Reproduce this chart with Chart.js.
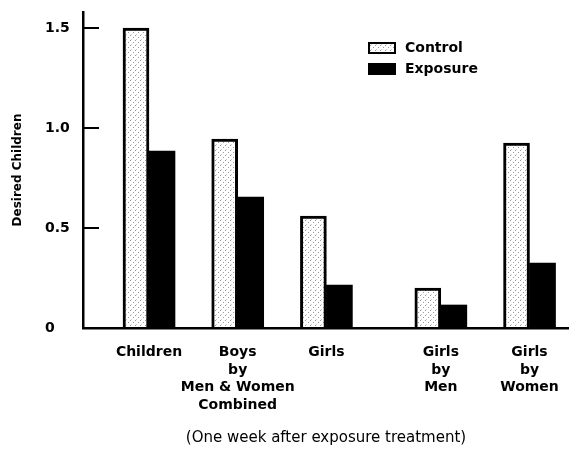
<!DOCTYPE html>
<html>
<head>
<meta charset="utf-8">
<script src="https://cdn.jsdelivr.net/npm/chart.js@4.4.0/dist/chart.umd.min.js"></script>
<style>
  html, body { margin: 0; padding: 0; background: #fff; }
  #wrap { width: 569px; height: 460px; }
</style>
</head>
<body>
<div id="wrap"><canvas id="myChart"></canvas></div>
<script>
const categories = [
    ['Children'],
    ['Boys', 'by', 'Men & Women', 'Combined'],
    ['Girls'],
    ['Girls', 'by', 'Men'],
    ['Girls', 'by', 'Women']
];
const seriesNames = ['Control', 'Exposure'];
const controlValues = [1.50, 0.945, 0.56, 0.20, 0.925];
const exposureValues = [0.885, 0.655, 0.215, 0.115, 0.325];
const yTicks = [0, 0.5, 1.0, 1.5];
const yTickLabels = ['0', '0.5', '1.0', '1.5'];

// the last two groups sit a bit further right than the first three
const slot = i => (i < 3 ? i : i + 0.29);

const FONT = 'DejaVu Sans';

// light stippled fill for the control bars
const makeStipple = () => {
    const c = document.createElement('canvas');
    c.width = 5; c.height = 5;
    const g = c.getContext('2d');
    g.fillStyle = '#ffffff';
    g.fillRect(0, 0, 5, 5);
    g.fillStyle = 'rgba(0,0,0,0.4)';
    g.fillRect(0, 0, 1, 1);
    g.fillRect(3, 2, 1, 1);
    g.fillStyle = 'rgba(0,0,0,0.2)';
    g.fillRect(1, 4, 1, 1);
    return g.createPattern(c, 'repeat');
};

const boxLegend = {
    id: 'boxLegend',
    afterDraw(chart) {
        const {ctx, chartArea} = chart;
        const x = chartArea.left + 286;
        chart.data.datasets.forEach((ds, i) => {
            const y = chartArea.top + 31 + i * 21;
            ctx.save();
            ctx.fillStyle = ds.backgroundColor;
            ctx.fillRect(x, y, 26, 10);
            ctx.lineWidth = 2;
            ctx.strokeStyle = '#000';
            ctx.strokeRect(x, y, 26, 10);
            ctx.fillStyle = '#000';
            ctx.font = 'bold 14px "' + FONT + '"';
            ctx.textBaseline = 'middle';
            ctx.fillText(ds.label, x + 36, y + 5);
            ctx.restore();
        });
    }
};

const renderChart = () => {
    var ctx = document.getElementById('myChart').getContext('2d');
    var stipple = makeStipple();
    new Chart(ctx, {
        type: 'bar',
        data: {
            datasets: [{
                label: seriesNames[0],
                data: controlValues.map((v, i) => ({x: slot(i), y: v})),
                backgroundColor: stipple,
                borderColor: '#000',
                borderWidth: 3,
                barThickness: 26
            }, {
                label: seriesNames[1],
                data: exposureValues.map((v, i) => ({x: slot(i), y: v})),
                backgroundColor: '#000',
                borderColor: '#000',
                borderWidth: 0,
                barThickness: 26
            }]
        },
        options: {
            animation: false,
            responsive: true,
            maintainAspectRatio: false,
            layout: { padding: { top: 12, right: 0, left: 0, bottom: 0 } },
            plugins: {
                legend: { display: false },
                tooltip: { enabled: false },
                title: { display: false }
            },
            scales: {
                x: {
                    type: 'linear',
                    offset: false,
                    min: -0.744,
                    max: 4.735,
                    afterBuildTicks: s => { s.ticks = categories.map((c, i) => ({value: slot(i)})); },
                    afterFit: s => { s.height = 132; },
                    grid: { display: false, offset: false },
                    border: { display: true, color: '#000', width: 2.5 },
                    ticks: {
                        autoSkip: false,
                        maxRotation: 0,
                        padding: 8,
                        color: '#000',
                        font: { family: FONT, size: 14, weight: 'bold', lineHeight: 1.25 },
                        callback: (v, i) => categories[i]
                    },
                    title: {
                        display: true,
                        text: '(One week after exposure treatment)',
                        color: '#000',
                        font: { family: FONT, size: 15 },
                        padding: { top: 0, bottom: 13 }
                    }
                },
                y: {
                    min: 0,
                    max: 1.58,
                    weight: 0,
                    afterBuildTicks: s => { s.ticks = yTicks.map(v => ({value: v})); },
                    afterFit: s => { s.width = 38; },
                    grid: { drawOnChartArea: false, drawTicks: true, tickLength: -16, color: '#000', lineWidth: 2 },
                    border: { display: true, color: '#000', width: 2.5 },
                    ticks: {
                        crossAlign: 'far',
                        padding: 0,
                        color: '#000',
                        font: { family: FONT, size: 14, weight: 'bold' },
                        callback: (v, i) => yTickLabels[i]
                    }
                },
                yTitle: {
                    type: 'linear',
                    position: 'left',
                    weight: 1,
                    afterFit: s => { s.width = 45; },
                    grid: { display: false },
                    border: { display: false },
                    ticks: { display: false },
                    title: {
                        display: true,
                        text: 'Desired Children',
                        color: '#000',
                        font: { family: FONT, size: 12, weight: 'bold' },
                        padding: { top: 11, bottom: 0 }
                    }
                }
            }
        },
        plugins: [boxLegend]
    });
};

document.addEventListener('DOMContentLoaded', function() {
    renderChart();
});
</script>
</body>
</html>
